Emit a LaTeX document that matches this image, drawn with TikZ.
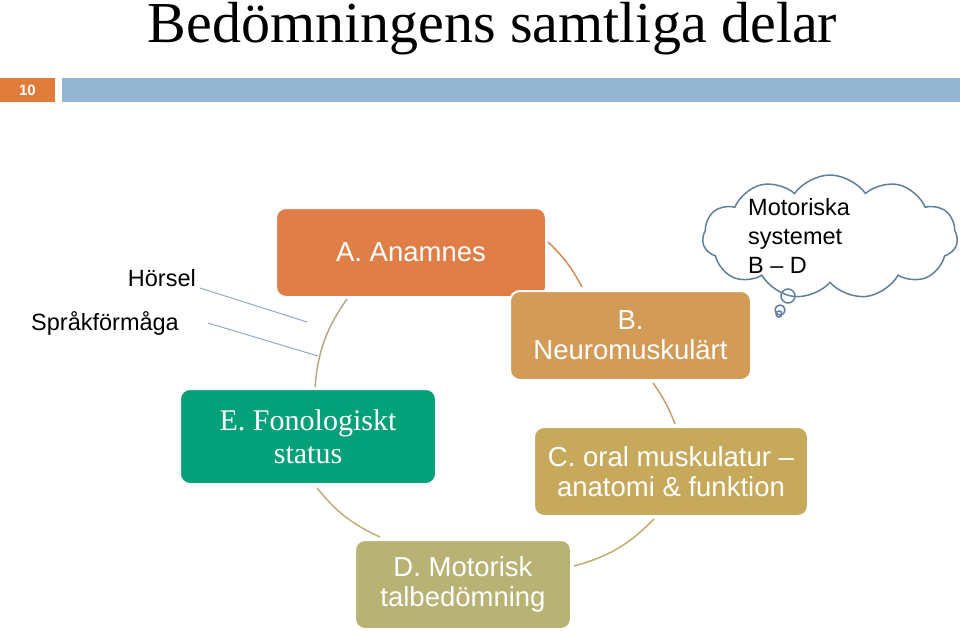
\documentclass[tikz,border=0pt]{standalone}
\usepackage{fontspec}
\setmainfont{Liberation Serif}
\setsansfont{Liberation Sans}
\usetikzlibrary{shapes.symbols,calc}
\definecolor{cA}{HTML}{E07E47}
\definecolor{cB}{HTML}{D29B57}
\definecolor{cC}{HTML}{C6A95B}
\definecolor{cD}{HTML}{B9B275}
\definecolor{cE}{HTML}{04A07A}
\definecolor{numbox}{HTML}{E07B39}
\definecolor{barblue}{HTML}{94B6D3}
\definecolor{cloudline}{HTML}{5F7F9B}
\definecolor{thinblue}{HTML}{8FAAC3}
\definecolor{lAB}{HTML}{D48A5C}
\definecolor{lBC}{HTML}{C8A070}
\definecolor{lCD}{HTML}{C4AE6C}
\definecolor{lDE}{HTML}{BDAE7E}
\definecolor{lEA}{HTML}{B5A98C}
\begin{document}
\begin{tikzpicture}[x=1pt,y=1pt,
  box/.style={rounded corners=10pt, draw=white, line width=2pt, text=white, align=center, inner sep=0pt},
  sbox/.style={box, font=\sffamily\fontsize{27.5}{30}\selectfont},
  link/.style={line width=1.5pt},
  side/.style={font=\sffamily\fontsize{23.5}{28}\selectfont, anchor=east, inner sep=0pt},
  pointer/.style={draw=thinblue, line width=1pt},
  bubble/.style={circle, draw=cloudline, line width=1.5pt, inner sep=0pt}]
\useasboundingbox (0,0) rectangle (960,-630);
% header
\node[fill=numbox, minimum width=55pt, minimum height=24pt, inner sep=0pt, text=white,
      font=\sffamily\bfseries\fontsize{15}{15}\selectfont] (num) at (27.5,-90) {10};
\node[fill=barblue, minimum width=898pt, minimum height=24pt, inner sep=0pt] (bar) at (511,-90) {};
\node[anchor=base, inner sep=0pt, font=\fontsize{58}{60}\selectfont] (title) at (492.5,-42.5) {Bedömningens samtliga delar};
% boxes
\node[sbox, fill=cA, minimum width=270pt, minimum height=89pt] (A) at (411,-252.5) {A. Anamnes};
\node[sbox, fill=cB, minimum width=241pt, minimum height=89pt] (B) at (630.5,-335.5) {B.\\Neuromuskulärt};
\node[sbox, fill=cC, minimum width=274pt, minimum height=89pt] (C) at (671,-471.5) {C. oral muskulatur –\\anatomi \& funktion};
\node[sbox, fill=cD, minimum width=216pt, minimum height=89pt] (D) at (463,-584.5) {D. Motorisk\\talbedömning};
\node[box, fill=cE, font=\fontsize{30}{33}\selectfont, minimum width=256pt, minimum height=95pt] (E) at (308,-436.5) {E. Fonologiskt\\status};
% cycle arcs
\draw[link, draw=lAB] ($(A.east)+(1,10.5)$) to[bend left=9] ($(B.north)+(-48.5,3)$);
\draw[link, draw=lBC] ($(B.south)+(22.5,-2)$) to[bend left=7] ($(C.north)+(4,2)$);
\draw[link, draw=lCD] ($(C.south)+(-17,-2)$) to[bend left=15] ($(D.east)+(2,18.5)$);
\draw[link, draw=lDE] ($(D.north)+(-83,2)$) to[bend left=13] ($(E.south)+(9,-3)$);
\draw[link, draw=lEA] ($(E.north)+(7,1)$) to[bend left=15] ($(A.south)+(-64,-1)$);
% side labels
\node[side] (hor) at (196,-278) {Hörsel};
\node[side] (spr) at (179,-323) {Språkförmåga};
\coordinate (hend) at (307,-322);
\coordinate (send) at (318,-356);
\draw[pointer] ($(hor.east)+(4,-10)$) -- (hend);
\draw[pointer] ($(spr.east)+(29,0)$) -- (send);
% thought cloud
\node[cloud, cloud puffs=11, cloud puff arc=110, aspect=2.1, draw=cloudline, line width=1.5pt,
      fill=white, minimum width=255pt, minimum height=124pt, inner sep=0pt] (cloud) at (830,-237) {};
\node[anchor=west, align=left, inner sep=0pt, font=\sffamily\fontsize{23.5}{29}\selectfont] (ctext) at (748,-236) {Motoriska\\systemet\\B – D};
\node[bubble, minimum size=14pt] (bub1) at (788,-296) {};
\node[bubble, minimum size=10pt] (bub2) at (780,-310) {};
\node[bubble, minimum size=6pt] (bub3) at (779,-314) {};
\end{tikzpicture}
\end{document}
